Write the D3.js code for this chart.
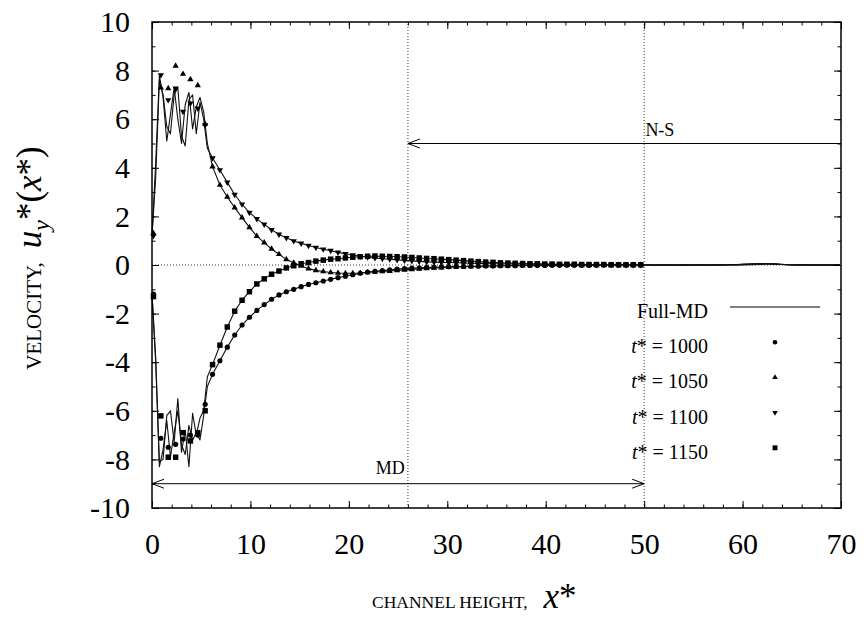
<!DOCTYPE html>
<html>
<head>
<meta charset="utf-8">
<script src="https://cdn.jsdelivr.net/npm/d3@7"></script>
<style>
  body { margin: 0; background: #fff; }
  svg { display: block; font-family: "Liberation Serif", "Times New Roman", serif; }
</style>
</head>
<body>
<svg id="chart" width="866" height="617"></svg>
<script>
// ---------- data ----------
// hybrid MD samples: bin centres x = binOffset + i * binWidth (i = 0 .. 66)
const binWidth = 0.75;
const binOffset = 0.15;
// near-wall Full-MD samples use a finer step before joining the bin grid at index 8
const wallStep = 0.375;
const wallCount = 16;
const joinIndex = 8;

const hybrid1000 = [
  -1.2, -7.13, -7.5, -7.38, -7.16, -7.0, -7.0, -5.73,
  -4.5, -3.94, -3.38, -2.88, -2.47, -2.15, -1.87, -1.63, -1.41, -1.23, -1.10, -1.00,
  -0.89, -0.80, -0.73, -0.66, -0.59, -0.52, -0.46, -0.40, -0.34, -0.29,
  -0.26, -0.23, -0.20, -0.17, -0.15, -0.13, -0.12, -0.10, -0.09, -0.08,
  -0.07, -0.06, -0.06, -0.05, -0.05, -0.04, -0.04, -0.03, -0.03, -0.03,
  -0.02, -0.02, -0.02, -0.02, -0.01, -0.01, -0.01, -0.01, -0.01, -0.01,
  -0.01, 0.00, 0.00, 0.00, 0.00, 0.00, 0.00
];
const hybrid1050 = [
  1.3, 7.3, 7.27, 8.19, 7.86, 7.64, 7.39, 5.8,
  4.05, 3.29, 2.80, 2.36, 1.95, 1.55, 1.19, 0.92, 0.66, 0.44, 0.23, 0.09,
  -0.04, -0.15, -0.22, -0.27, -0.31, -0.33, -0.34, -0.34, -0.33, -0.31,
  -0.29, -0.27, -0.25, -0.22, -0.20, -0.18, -0.16, -0.14, -0.12, -0.11,
  -0.09, -0.08, -0.07, -0.06, -0.05, -0.04, -0.04, -0.03, -0.03, -0.02,
  -0.02, -0.02, -0.01, -0.01, -0.01, -0.01, -0.01, 0.00, 0.00, 0.00,
  0.00, 0.00, 0.00, 0.00, 0.00, 0.00, 0.00
];
const hybrid1100 = [
  1.2, 7.82, 6.79, 7.27, 6.31, 6.65, 6.45, 5.76,
  4.4, 3.91, 3.40, 2.90, 2.50, 2.16, 1.90, 1.67, 1.45, 1.26, 1.12, 0.99,
  0.89, 0.80, 0.72, 0.65, 0.59, 0.52, 0.46, 0.41, 0.36, 0.32,
  0.29, 0.26, 0.24, 0.21, 0.19, 0.17, 0.15, 0.13, 0.12, 0.11,
  0.10, 0.09, 0.08, 0.07, 0.06, 0.06, 0.05, 0.05, 0.04, 0.04,
  0.03, 0.03, 0.03, 0.02, 0.02, 0.02, 0.02, 0.01, 0.01, 0.01,
  0.01, 0.01, 0.01, 0.01, 0.00, 0.00, 0.00
];
const hybrid1150 = [
  -1.3, -6.21, -7.91, -7.91, -6.9, -7.24, -6.9, -6.0,
  -4.1, -3.3, -2.55, -1.90, -1.45, -1.10, -0.78, -0.57, -0.38, -0.25, -0.12, -0.03,
  0.05, 0.10, 0.16, 0.20, 0.24, 0.26, 0.29, 0.32, 0.34, 0.36,
  0.37, 0.36, 0.35, 0.34, 0.33, 0.31, 0.29, 0.27, 0.26, 0.24,
  0.22, 0.20, 0.18, 0.16, 0.14, 0.12, 0.11, 0.09, 0.08, 0.07,
  0.06, 0.05, 0.05, 0.04, 0.04, 0.03, 0.03, 0.03, 0.02, 0.02,
  0.02, 0.02, 0.01, 0.01, 0.01, 0.01, 0.01
];

// Full-MD profiles: 16 near-wall samples, then bins 8 .. 93 (x up to 69.9)
const fullMD1000 = [
  -1.2, -4.0, -8.3, -7.6, -6.4, -7.9, -6.9, -6.0, -7.4, -7.8, -6.6, -7.2, -6.9, -7.2, -6.2, -5.0,
  -4.5, -3.94, -3.38, -2.88, -2.47, -2.15, -1.87, -1.63, -1.41, -1.23, -1.10, -1.00,
  -0.89, -0.80, -0.73, -0.66, -0.59, -0.52, -0.46, -0.40, -0.34, -0.29,
  -0.26, -0.23, -0.20, -0.17, -0.15, -0.13, -0.12, -0.10, -0.09, -0.08,
  -0.07, -0.06, -0.06, -0.05, -0.05, -0.04, -0.04, -0.03, -0.03, -0.03,
  -0.02, -0.02, -0.02, -0.02, -0.01, -0.01, -0.01, -0.01, -0.01, -0.01,
  -0.01, 0.00, 0.00, 0.00, 0.00, 0.00, 0.00,
  0.00, -0.01, 0.00, 0.01, 0.00, -0.01, 0.00, 0.01, 0.00, 0.00,
  0.01, 0.00, -0.01, 0.00, 0.01, 0.02, 0.04, 0.05, 0.03, 0.01,
  0.00, 0.01, 0.00, -0.01, 0.00, 0.01, 0.00
];
const fullMD1050 = [
  1.2, 4.2, 7.8, 6.9, 5.1, 6.2, 7.3, 6.0, 5.0, 6.6, 7.1, 5.6, 6.5, 6.9, 6.3, 5.0,
  4.05, 3.29, 2.80, 2.36, 1.95, 1.55, 1.19, 0.92, 0.66, 0.44, 0.23, 0.09,
  -0.04, -0.15, -0.22, -0.27, -0.31, -0.33, -0.34, -0.34, -0.33, -0.31,
  -0.29, -0.27, -0.25, -0.22, -0.20, -0.18, -0.16, -0.14, -0.12, -0.11,
  -0.09, -0.08, -0.07, -0.06, -0.05, -0.04, -0.04, -0.03, -0.03, -0.02,
  -0.02, -0.02, -0.01, -0.01, -0.01, -0.01, -0.01, 0.00, 0.00, 0.00,
  0.00, 0.00, 0.00, 0.00, 0.00, 0.00, 0.00,
  0.01, 0.00, 0.00, -0.01, 0.00, 0.01, 0.00, 0.00, -0.01, 0.00,
  0.00, 0.01, 0.02, 0.02, 0.03, 0.05, 0.06, 0.05, 0.03, 0.01,
  0.00, 0.00, 0.01, 0.00, -0.01, 0.00, 0.00
];
const fullMD1100 = [
  1.2, 3.6, 7.6, 7.0, 5.7, 5.4, 7.0, 7.3, 5.3, 4.9, 6.8, 7.0, 5.4, 6.7, 6.0, 4.8,
  4.4, 3.91, 3.40, 2.90, 2.50, 2.16, 1.90, 1.67, 1.45, 1.26, 1.12, 0.99,
  0.89, 0.80, 0.72, 0.65, 0.59, 0.52, 0.46, 0.41, 0.36, 0.32,
  0.29, 0.26, 0.24, 0.21, 0.19, 0.17, 0.15, 0.13, 0.12, 0.11,
  0.10, 0.09, 0.08, 0.07, 0.06, 0.06, 0.05, 0.05, 0.04, 0.04,
  0.03, 0.03, 0.03, 0.02, 0.02, 0.02, 0.02, 0.01, 0.01, 0.01,
  0.01, 0.01, 0.01, 0.01, 0.00, 0.00, 0.00,
  0.00, 0.00, 0.01, 0.00, -0.01, 0.00, 0.00, 0.01, 0.01, 0.00,
  0.00, 0.01, 0.02, 0.04, 0.05, 0.06, 0.05, 0.04, 0.02, 0.01,
  0.00, 0.01, 0.00, 0.00, 0.01, 0.00, 0.00
];
const fullMD1150 = [
  -1.2, -3.8, -8.1, -8.0, -6.2, -6.0, -7.3, -5.5, -7.7, -6.8, -8.3, -6.1, -7.0, -6.3, -6.0, -4.6,
  -4.1, -3.3, -2.55, -1.90, -1.45, -1.10, -0.78, -0.57, -0.38, -0.25, -0.12, -0.03,
  0.05, 0.10, 0.16, 0.20, 0.24, 0.26, 0.29, 0.32, 0.34, 0.36,
  0.37, 0.36, 0.35, 0.34, 0.33, 0.31, 0.29, 0.27, 0.26, 0.24,
  0.22, 0.20, 0.18, 0.16, 0.14, 0.12, 0.11, 0.09, 0.08, 0.07,
  0.06, 0.05, 0.05, 0.04, 0.04, 0.03, 0.03, 0.03, 0.02, 0.02,
  0.02, 0.02, 0.01, 0.01, 0.01, 0.01, 0.01,
  0.01, 0.00, 0.01, 0.00, 0.00, 0.01, 0.00, -0.01, 0.00, 0.01,
  0.00, 0.01, 0.01, 0.03, 0.04, 0.05, 0.04, 0.03, 0.02, 0.01,
  0.01, 0.00, 0.00, 0.01, 0.00, 0.00, 0.01
];

const timeLabels = ["1000", "1050", "1100", "1150"];
const xMajorTicks = [0, 10, 20, 30, 40, 50, 60, 70];
const xMinorTicks = d3.range(0, 71, 2);
const yMajorTicks = [-10, -8, -6, -4, -2, 0, 2, 4, 6, 8, 10];
const yMinorTicks = d3.range(-10, 11, 1);

// region markers: MD domain 0..50 at u = -9, N-S domain 26..70 at u = 5
const mdRange = [0, 50], mdLevel = -9;
const nsRange = [26, 70], nsLevel = 5;

// ---------- layout ----------
const svg = d3.select("#chart");
const plot = { left: 152, right: 841, top: 22, bottom: 508 };
const x = d3.scaleLinear().domain([0, 70]).range([plot.left, plot.right]);
const y = d3.scaleLinear().domain([-10, 10]).range([plot.bottom, plot.top]);

const hybridX = i => binOffset + i * binWidth;
const fullX = i => i < wallCount ? i * wallStep : binOffset + (i - wallCount + joinIndex) * binWidth;

// reference lines (dotted)
const guides = svg.append("g").attr("stroke", "#000").attr("stroke-width", 0.8)
  .attr("stroke-dasharray", "1,2").attr("fill", "none");
guides.append("line").attr("x1", x(0)).attr("x2", x(70)).attr("y1", y(0)).attr("y2", y(0));
[nsRange[0], mdRange[1]].forEach(v => {
  guides.append("line").attr("x1", x(v)).attr("x2", x(v)).attr("y1", y(-10)).attr("y2", y(10));
});

// Full-MD lines
const line = d3.line().x((d, i) => x(fullX(i))).y(d => y(d));
[fullMD1000, fullMD1050, fullMD1100, fullMD1150].forEach(s => {
  svg.append("path").datum(s).attr("d", line)
    .attr("fill", "none").attr("stroke", "#111").attr("stroke-width", 1.1)
    .attr("stroke-linejoin", "round");
});

// hybrid markers
const symbols = [
  { data: hybrid1000, type: d3.symbolCircle, size: 21, rot: 0 },
  { data: hybrid1050, type: d3.symbolTriangle, size: 17, rot: 0 },
  { data: hybrid1100, type: d3.symbolTriangle, size: 17, rot: 180 },
  { data: hybrid1150, type: d3.symbolSquare, size: 30, rot: 0 }
];
symbols.forEach(s => {
  const path = d3.symbol().type(s.type).size(s.size)();
  svg.append("g").selectAll("path").data(s.data).join("path")
    .attr("d", path)
    .attr("transform", (d, i) => `translate(${x(hybridX(i))},${y(d)}) rotate(${s.rot})`)
    .attr("fill", "#000");
});

// region arrows
function arrowHead(g, px, py, dir) {
  const len = 12, half = 4.5;
  g.append("path")
    .attr("d", `M${px - dir * len},${py - half}L${px},${py}L${px - dir * len},${py + half}`)
    .attr("fill", "none").attr("stroke", "#000").attr("stroke-width", 1);
}
const arrows = svg.append("g");
arrows.append("line").attr("x1", x(mdRange[0])).attr("x2", x(mdRange[1]))
  .attr("y1", y(mdLevel)).attr("y2", y(mdLevel)).attr("stroke", "#000").attr("stroke-width", 1);
arrowHead(arrows, x(mdRange[0]), y(mdLevel), -1);
arrowHead(arrows, x(mdRange[1]), y(mdLevel), 1);
arrows.append("text").attr("x", x(24.2)).attr("y", y(mdLevel) - 10)
  .attr("text-anchor", "middle").attr("font-size", 18).text("MD");

arrows.append("line").attr("x1", x(nsRange[0])).attr("x2", x(nsRange[1]))
  .attr("y1", y(nsLevel)).attr("y2", y(nsLevel)).attr("stroke", "#000").attr("stroke-width", 1);
arrowHead(arrows, x(nsRange[0]), y(nsLevel), -1);
arrows.append("text").attr("x", x(51.6)).attr("y", y(nsLevel) - 8)
  .attr("text-anchor", "middle").attr("font-size", 18).text("N-S");

// legend
const legend = svg.append("g").attr("font-size", 20);
const legX = 708, legRow0 = 318, legStep = 35.2;
legend.append("text").attr("x", legX).attr("y", legRow0).attr("text-anchor", "end").text("Full-MD");
legend.append("line").attr("x1", 730).attr("x2", 820).attr("y1", legRow0 - 11).attr("y2", legRow0 - 11)
  .attr("stroke", "#000").attr("stroke-width", 1);
timeLabels.forEach((t, k) => {
  const by = legRow0 + (k + 1) * legStep;
  const tx = legend.append("text").attr("x", legX).attr("y", by).attr("text-anchor", "end");
  tx.append("tspan").attr("font-style", "italic").text("t");
  tx.append("tspan").text("* = " + t);
  const s = symbols[k];
  legend.append("path").attr("d", d3.symbol().type(s.type).size(s.size * 0.8)())
    .attr("transform", `translate(775,${by - 11}) rotate(${s.rot})`).attr("fill", "#000");
});

// axes with inward ticks on all four sides
const fmt = d => String(d);
function styleAxis(g) {
  g.select(".domain").remove();
  g.selectAll(".tick line").attr("stroke", "#000").attr("stroke-width", 1);
  g.selectAll("text").attr("font-family", "Liberation Serif, serif").attr("font-size", 30).attr("fill", "#000");
}
svg.append("g").attr("transform", `translate(0,${plot.bottom})`)
  .call(d3.axisBottom(x).tickValues(xMinorTicks).tickSize(-3.5).tickFormat("")).call(styleAxis);
svg.append("g").attr("transform", `translate(0,${plot.bottom})`)
  .call(d3.axisBottom(x).tickValues(xMajorTicks).tickSize(-7).tickPadding(25).tickFormat(fmt)).call(styleAxis);
svg.append("g").attr("transform", `translate(0,${plot.top})`)
  .call(d3.axisTop(x).tickValues(xMinorTicks).tickSize(-3.5).tickFormat("")).call(styleAxis);
svg.append("g").attr("transform", `translate(0,${plot.top})`)
  .call(d3.axisTop(x).tickValues(xMajorTicks).tickSize(-7).tickFormat("")).call(styleAxis);
svg.append("g").attr("transform", `translate(${plot.left},0)`)
  .call(d3.axisLeft(y).tickValues(yMinorTicks).tickSize(-3.5).tickFormat("")).call(styleAxis);
svg.append("g").attr("transform", `translate(${plot.left},0)`)
  .call(d3.axisLeft(y).tickValues(yMajorTicks).tickSize(-7).tickPadding(22).tickFormat(fmt)).call(styleAxis);
svg.append("g").attr("transform", `translate(${plot.right},0)`)
  .call(d3.axisRight(y).tickValues(yMinorTicks).tickSize(-3.5).tickFormat("")).call(styleAxis);
svg.append("g").attr("transform", `translate(${plot.right},0)`)
  .call(d3.axisRight(y).tickValues(yMajorTicks).tickSize(-7).tickFormat("")).call(styleAxis);

// frame
svg.append("rect").attr("x", plot.left).attr("y", plot.top)
  .attr("width", plot.right - plot.left).attr("height", plot.bottom - plot.top)
  .attr("fill", "none").attr("stroke", "#000").attr("stroke-width", 1.5);

// axis titles
const xt = svg.append("text").attr("x", 372).attr("y", 608);
xt.append("tspan").attr("font-size", 17.5).text("CHANNEL HEIGHT,");
xt.append("tspan").attr("font-size", 35).attr("font-style", "italic").attr("dx", 16).text("x");
xt.append("tspan").attr("font-size", 35).text("*");

const yt = svg.append("text").attr("transform", "translate(41,258) rotate(-90)").attr("text-anchor", "middle");
yt.append("tspan").attr("font-size", 21).text("VELOCITY,");
yt.append("tspan").attr("font-size", 35).attr("font-style", "italic").attr("dx", 14).text("u");
yt.append("tspan").attr("font-size", 24).attr("font-style", "italic").attr("dy", 8).text("y");
yt.append("tspan").attr("font-size", 35).attr("dy", -8).text("*(");
yt.append("tspan").attr("font-size", 35).attr("font-style", "italic").text("x");
yt.append("tspan").attr("font-size", 35).text("*)");
</script>
</body>
</html>
